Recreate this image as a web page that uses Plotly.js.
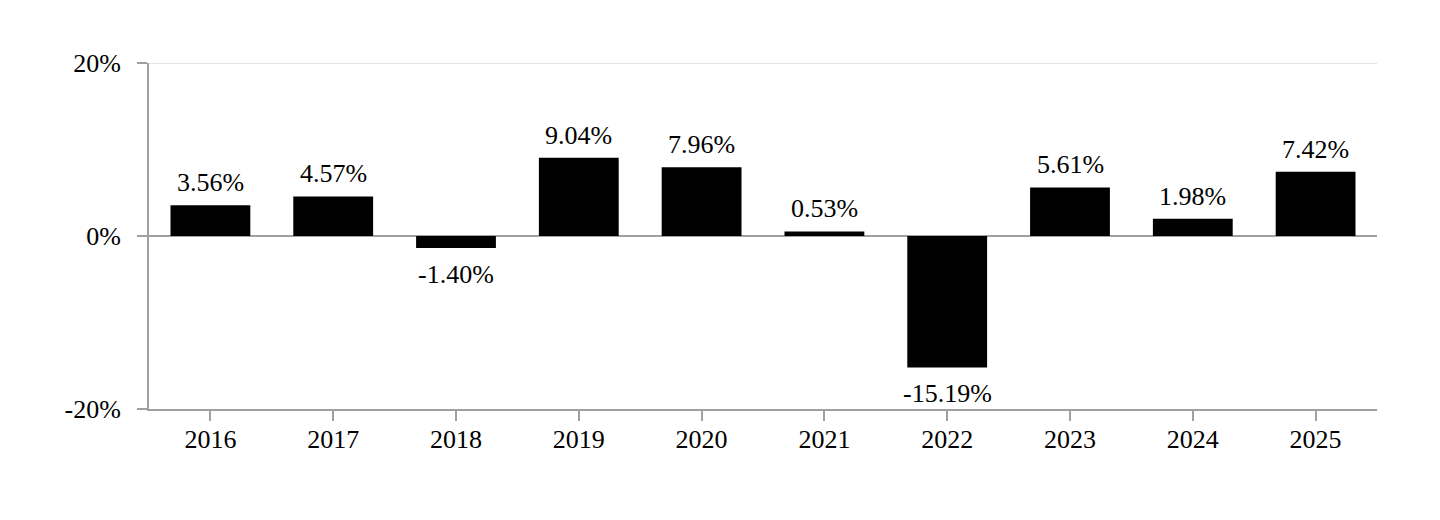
<!DOCTYPE html>
<html>
<head>
<meta charset="utf-8">
<script src="https://cdn.plot.ly/plotly-3.0.1.min.js"></script>
<style>html,body{margin:0;padding:0;background:#fff;}#chart{width:1440px;height:520px;}</style>
</head>
<body>
<div id="chart"></div>
<script>
const years = ['2016','2017','2018','2019','2020','2021','2022','2023','2024','2025'];
const returns = [3.56, 4.57, -1.40, 9.04, 7.96, 0.53, -15.19, 5.61, 1.98, 7.42];
const yTicks = [-20, 0, 20];
const yTickLabels = ['-20%', '0%', '20%'];

const idx = years.map((_, i) => i);
const font = {family: 'Liberation Serif', size: 26, color: '#000'};

const annotations = idx.map(i => ({
  x: i, y: returns[i], xref: 'x', yref: 'y',
  text: returns[i].toFixed(2) + '%',
  showarrow: false,
  yanchor: returns[i] >= 0 ? 'bottom' : 'top',
  yshift: returns[i] >= 0 ? 6 : -10,
  font: font
}));

const topGrid = {
  type: 'line', xref: 'paper', yref: 'y',
  x0: 0, x1: 1, y0: yTicks[yTicks.length - 1], y1: yTicks[yTicks.length - 1],
  line: {color: '#e3e3e3', width: 2},
  layer: 'below'
};

Plotly.newPlot('chart', [{
  type: 'bar',
  x: idx,
  y: returns,
  marker: {color: '#000'},
  hoverinfo: 'skip'
}], {
  width: 1440, height: 520,
  margin: {l: 149, r: 63, t: 63, b: 111},
  paper_bgcolor: '#fff', plot_bgcolor: '#fff',
  bargap: 0.35,
  showlegend: false,
  font: font,
  xaxis: {
    type: 'linear',
    range: [-0.5, 9.5],
    tickvals: idx, ticktext: years,
    showline: true, linecolor: '#a0a0a0', linewidth: 2,
    ticks: 'outside', ticklen: 10, tickcolor: '#a0a0a0', tickwidth: 2,
    showgrid: false, zeroline: false,
    tickfont: font, ticklabelstandoff: -4
  },
  yaxis: {
    type: 'linear',
    range: [-20, 20],
    tickvals: yTicks, ticktext: yTickLabels,
    showline: true, linecolor: '#a0a0a0', linewidth: 2,
    ticks: 'outside', ticklen: 10, tickcolor: '#a0a0a0', tickwidth: 2,
    showgrid: true, gridcolor: '#e3e3e3', gridwidth: 2,
    zeroline: true, zerolinecolor: '#a0a0a0', zerolinewidth: 2,
    tickfont: font, ticklabelstandoff: 11
  },
  shapes: [topGrid],
  annotations: annotations
}, {displayModeBar: false, staticPlot: true});
</script>
</body>
</html>
